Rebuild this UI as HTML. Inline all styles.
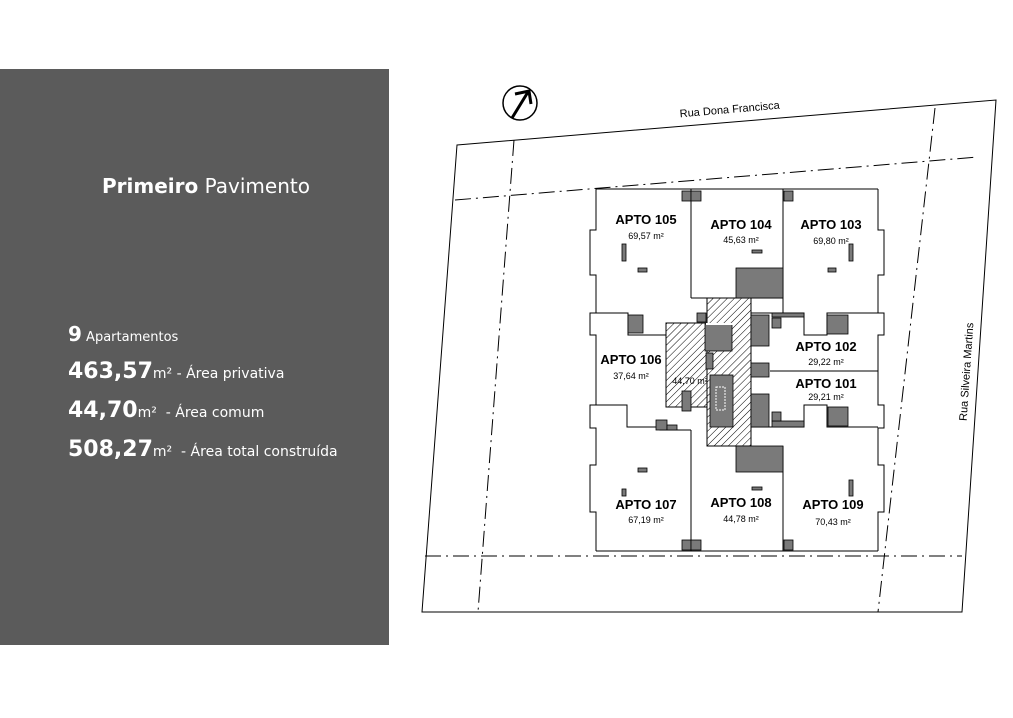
<!DOCTYPE html>
<html><head><meta charset="utf-8"><style>
body{margin:0;width:1013px;height:718px;background:#fff;position:relative;overflow:hidden;font-family:"Liberation Sans",sans-serif}
#panel{position:absolute;left:0;top:69px;width:389px;height:576px;background:#5b5b5b;color:#fff}
.t{position:absolute;white-space:nowrap;font-family:"DejaVu Sans","Liberation Sans",sans-serif}
b{font-weight:bold}
</style></head><body>
<div id="panel">
<div class="t" style="left:102px;top:105px;font-size:20px"><b>Primeiro</b> Pavimento</div>
<div class="t" style="left:68px;top:253px;font-size:13px"><b style="font-size:20px">9</b> Apartamentos</div>
<div class="t" style="left:68px;top:290px;font-size:14px"><b style="font-size:22px">463,57</b>m² - Área privativa</div>
<div class="t" style="left:68px;top:329px;font-size:14px"><b style="font-size:22px">44,70</b>m²&nbsp; - Área comum</div>
<div class="t" style="left:68px;top:368px;font-size:14px"><b style="font-size:22px">508,27</b>m²&nbsp; - Área total construída</div>
</div>
<svg width="1013" height="718" style="position:absolute;left:0;top:0" font-family="Liberation Sans, sans-serif">
<defs><pattern id="h" width="5" height="5" patternUnits="userSpaceOnUse" patternTransform="rotate(45)"><line x1="0" y1="0" x2="0" y2="5" stroke="#000" stroke-width="1"/></pattern></defs>
<g fill="none" stroke="#000" stroke-width="1">
<polygon points="457,145 996,100 962,612 422,612"/>
<g stroke-dasharray="16,5,2,5">
<line x1="455" y1="200" x2="978" y2="157"/>
<line x1="425" y1="556" x2="962" y2="556"/>
<line x1="514" y1="140" x2="478" y2="612"/>
<line x1="935" y1="108" x2="878" y2="612"/>
</g>
</g>
<circle cx="520" cy="103" r="17" fill="none" stroke="#000" stroke-width="1.5"/>
<path d="M512,118 L528,92 M515,94 L529,91 L531,104" stroke="#000" stroke-width="3" fill="none"/>
<text x="730" y="113" font-size="11" text-anchor="middle" transform="rotate(-5 730 113)">Rua Dona Francisca</text>
<text x="970" y="372" font-size="11" text-anchor="middle" transform="rotate(-86 970 372)">Rua Silveira Martins</text>
<!-- hatch -->
<rect x="707" y="298" width="44" height="148" fill="url(#h)" stroke="#000"/>
<rect x="666" y="323" width="41" height="84" fill="url(#h)" stroke="#000"/>
<g fill="none" stroke="#000" stroke-width="1">
<polyline points="596,189 878,189"/>
<polyline points="596,551 878,551"/>
<polyline points="596,189 596,230 590,230 590,275 596,275 596,313 590,313 590,335 596,335 596,405 590,405 590,428 596,428 596,465 590,465 590,512 596,512 596,551"/>
<polyline points="878,189 878,230 884,230 884,275 878,275 878,313 884,313 884,335 878,335 878,405 884,405 884,428 878,428 878,465 884,465 884,512 878,512 878,551"/>
<line x1="691" y1="189" x2="691" y2="298"/>
<line x1="783" y1="189" x2="783" y2="313"/>
<line x1="691" y1="298" x2="783" y2="298"/>
<polyline points="596,313 628,313 628,335 666,335"/>
<polyline points="751,313 804,313 804,335 827,335 827,313 878,313"/>
<line x1="770" y1="371" x2="878" y2="371"/>
<polyline points="751,427 804,427 804,405 827,405 827,427 878,427"/>
<polyline points="596,405 627,405 627,427 660,427 660,430 691,430"/>
<line x1="691" y1="430" x2="691" y2="551"/>
<line x1="783" y1="446" x2="783" y2="551"/>
</g>
<g fill="#7a7a7a" stroke="#000" stroke-width="0.8">
<rect x="736" y="268" width="47" height="30"/>
<rect x="736" y="446" width="47" height="26"/>
<rect x="682" y="191" width="9" height="10"/><rect x="691" y="191" width="10" height="10"/><rect x="784" y="191" width="9" height="10"/>
<rect x="682" y="540" width="9" height="10"/><rect x="691" y="540" width="10" height="10"/><rect x="784" y="540" width="9" height="10"/>
<rect x="628" y="315" width="15" height="18"/>
<rect x="827" y="315" width="21" height="19"/>
<rect x="705" y="324" width="27" height="27"/>
<rect x="697" y="313" width="9" height="9"/>
<rect x="706" y="353" width="7" height="16"/>
<rect x="682" y="391" width="9" height="20"/>
<rect x="710" y="375" width="23" height="52"/>
<rect x="751" y="315" width="18" height="31"/>
<rect x="751" y="363" width="18" height="14"/>
<rect x="751" y="394" width="18" height="33"/>
<rect x="772" y="313" width="32" height="4"/>
<rect x="772" y="318" width="9" height="10"/>
<rect x="772" y="421" width="32" height="6"/>
<rect x="772" y="412" width="9" height="9"/>
<rect x="828" y="407" width="20" height="19"/>
<rect x="656" y="420" width="11" height="10"/>
<rect x="667" y="425" width="10" height="5"/>
<rect x="622" y="244" width="4" height="17"/><rect x="638" y="268" width="9" height="4"/>
<rect x="752" y="250" width="10" height="3"/>
<rect x="849" y="244" width="4" height="17"/><rect x="828" y="268" width="8" height="4"/>
<rect x="638" y="468" width="9" height="4"/><rect x="622" y="489" width="4" height="7"/>
<rect x="752" y="487" width="10" height="3"/>
<rect x="849" y="480" width="4" height="16"/>
</g>
<rect x="716" y="387" width="9" height="23" fill="none" stroke="#fff" stroke-dasharray="2,1"/>
<rect x="706" y="323" width="28" height="2" fill="#fff"/>
<g text-anchor="middle">
<g font-size="13" font-weight="bold">
<text x="646" y="224">APTO 105</text><text x="741" y="229">APTO 104</text><text x="831" y="229">APTO 103</text>
<text x="631" y="364">APTO 106</text><text x="826" y="351">APTO 102</text><text x="826" y="388">APTO 101</text>
<text x="646" y="509">APTO 107</text><text x="741" y="507">APTO 108</text><text x="833" y="509">APTO 109</text>
</g>
<g font-size="9">
<text x="646" y="239">69,57 m²</text><text x="741" y="243">45,63 m²</text><text x="831" y="244">69,80 m²</text>
<text x="631" y="379">37,64 m²</text><text x="826" y="365">29,22 m²</text><text x="826" y="400">29,21 m²</text>
<text x="646" y="523">67,19 m²</text><text x="741" y="522">44,78 m²</text><text x="833" y="525">70,43 m²</text>
<text x="690" y="384">44,70 m²</text>
</g>
</g>
</svg>
</body></html>
